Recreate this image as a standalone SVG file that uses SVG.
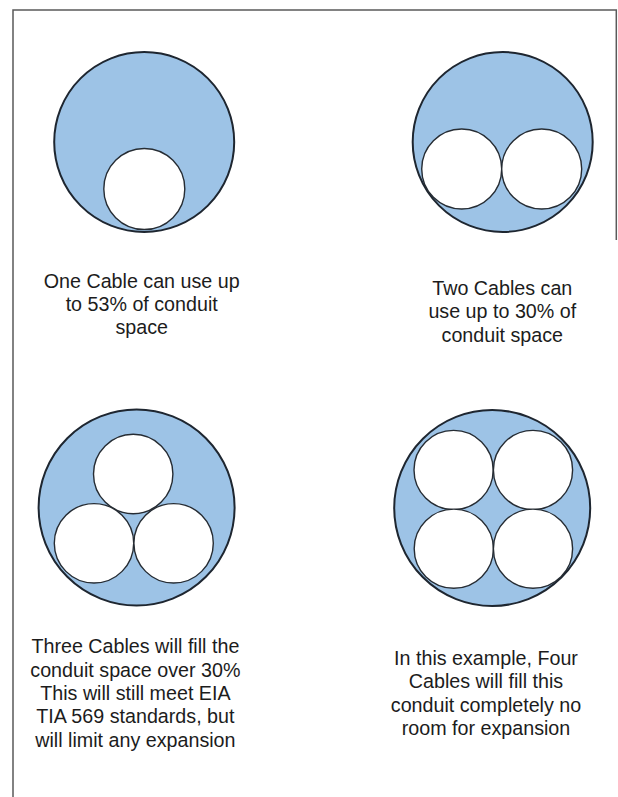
<svg xmlns="http://www.w3.org/2000/svg" width="618" height="797" viewBox="0 0 618 797">
<style>
.frame{fill:none;stroke:#5a5a5a;stroke-width:1.5}
.outer{fill:#9dc3e6;stroke:#1e2630;stroke-width:2}
.cable{fill:#ffffff;stroke:#262c33;stroke-width:1.4}
.lbl{font-family:"Liberation Sans",Arial,sans-serif;font-size:19.7px;fill:#1c1c1c;text-anchor:middle}
</style>
<rect width="618" height="797" fill="#ffffff"/>
<g id="frame">
<path class="frame" d="M13,797 V10 H616.3 V240"/>
</g>
<g id="connectors"></g>
<g id="one-cable">
<circle class="outer" cx="144.2" cy="142" r="90"/>
<circle class="cable" cx="144.3" cy="189" r="40.5"/>
<text class="lbl" x="141.7" y="288">One Cable can use up</text>
<text class="lbl" x="141.7" y="311">to 53% of conduit</text>
<text class="lbl" x="141.7" y="334">space</text>
</g>
<g id="two-cables">
<circle class="outer" cx="502.7" cy="142" r="90"/>
<circle class="cable" cx="461.7" cy="169" r="40"/>
<circle class="cable" cx="541.7" cy="169" r="40"/>
<text class="lbl" x="502.3" y="295">Two Cables can</text>
<text class="lbl" x="502.3" y="318.3">use up to 30% of</text>
<text class="lbl" x="502.3" y="341.6">conduit space</text>
</g>
<g id="three-cables">
<circle class="outer" cx="136.6" cy="507.5" r="98"/>
<circle class="cable" cx="133.2" cy="474" r="39.7"/>
<circle class="cable" cx="94" cy="543.3" r="39.7"/>
<circle class="cable" cx="173.6" cy="543.3" r="39.7"/>
<text class="lbl" x="135.4" y="653.3">Three Cables will fill the</text>
<text class="lbl" x="135.4" y="676.6">conduit space over 30%</text>
<text class="lbl" x="135.4" y="699.9">This will still meet EIA</text>
<text class="lbl" x="135.4" y="723.2">TIA 569 standards, but</text>
<text class="lbl" x="135.4" y="746.5">will limit any expansion</text>
</g>
<g id="four-cables">
<circle class="outer" cx="492.2" cy="508" r="98"/>
<circle class="cable" cx="453.6" cy="470" r="39.6"/>
<circle class="cable" cx="533" cy="470" r="39.6"/>
<circle class="cable" cx="453.8" cy="548.7" r="39.6"/>
<circle class="cable" cx="533" cy="548.7" r="39.6"/>
<text class="lbl" x="486" y="665">In this example, Four</text>
<text class="lbl" x="486" y="688.3">Cables will fill this</text>
<text class="lbl" x="486" y="711.6">conduit completely no</text>
<text class="lbl" x="486" y="734.9">room for expansion</text>
</g>
</svg>
